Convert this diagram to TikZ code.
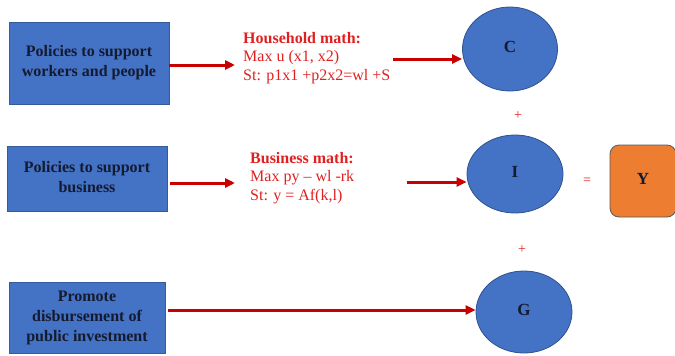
\documentclass[tikz,border=0pt]{standalone}
\usepackage{fontspec}
\setmainfont{Liberation Serif}
\usetikzlibrary{arrows.meta,shapes.geometric}
\definecolor{boxblue}{HTML}{4472C4}
\definecolor{edgeblue}{HTML}{2F528F}
\definecolor{arrred}{HTML}{C80000}
\definecolor{txtred}{HTML}{E02020}
\definecolor{orng}{HTML}{ED7D31}
\definecolor{navy}{HTML}{141B30}
\tikzset{
  policy/.style={draw=boxblue!80!black, line width=0.6pt, fill=boxblue, text=navy,
    font=\fontsize{16}{20}\selectfont\bfseries, align=center, inner sep=0pt},
  letter/.style={draw=edgeblue, line width=0.8pt, fill=boxblue, ellipse, text=navy,
    font=\fontsize{17}{20}\selectfont\bfseries, inner sep=0pt},
  mathtxt/.style={text=txtred, font=\fontsize{16}{18.5}\selectfont, align=left,
    anchor=west, inner sep=0pt},
  arr/.style={draw=arrred, line width=3pt, -{Triangle[length=10pt,width=9pt]}},
  op/.style={text=txtred, font=\fontsize{14}{16}\selectfont, inner sep=0pt}
}
\newcommand{\upl}[1]{\raisebox{5pt}{#1}}
\begin{document}
\begin{tikzpicture}[x=1pt,y=-1pt]
\useasboundingbox (0,0) rectangle (675,356);
% policy boxes
\node[policy, minimum width=160, minimum height=82] (p1) at (89,63) {Policies to support\\workers and people};
\node[policy, minimum width=160, minimum height=65] (p2) at (87,178.5) {Policies to support\\business\vphantom{p}};
\node[policy, minimum width=156, minimum height=71] (p3) at (87,317.5) {Promote\\disbursement of\\public investment};
% math texts
\node[mathtxt] (hh) at (243,58) {\textbf{Household math:}\\Max u (x1, x2)\\St: p1x1 +p2x2=wl +S};
\node[mathtxt] (bm) at (250,178) {\textbf{Business math:}\\Max py -- wl -rk\\St: y = Af(k,l)};
% C, I, G ellipses
\node[letter, minimum width=95, minimum height=84] (C) at (510,49) {\upl{C}};
\node[letter, minimum width=96, minimum height=78] (I) at (515,174) {\upl{I}};
\node[letter, minimum width=96, minimum height=82] (G) at (524,312) {\upl{G}};
% Y box
\node[draw=black!65, line width=0.8pt, fill=orng, rounded corners=9pt, minimum width=66, minimum height=72,
  text=navy, font=\fontsize{17}{20}\selectfont\bfseries, inner sep=0pt] (Y) at (643,181) {\upl{Y}};
% operators
\node[op] (plus1) at (518,116) {+};
\node[op] (plus2) at (522,250) {+};
\node[op] (eq) at (587,181) {=};
% connectors
\coordinate (a1e) at (235,65);
\coordinate (a2s) at (393,59);
\coordinate (a3e) at (235,183);
\coordinate (a4s) at (407,182);
\draw[arr] (p1.east |- a1e) -- (a1e);
\draw[arr] (a2s) -- (a2s -| C.west);
\draw[arr] (p2.east |- a3e) ++(3,0) -- (a3e);
\draw[arr] (a4s) -- (a4s -| I.west);
\draw[arr] (p3.east |- 0,310) ++(3,0) -- (G.west |- 0,310);
\end{tikzpicture}
\end{document}
